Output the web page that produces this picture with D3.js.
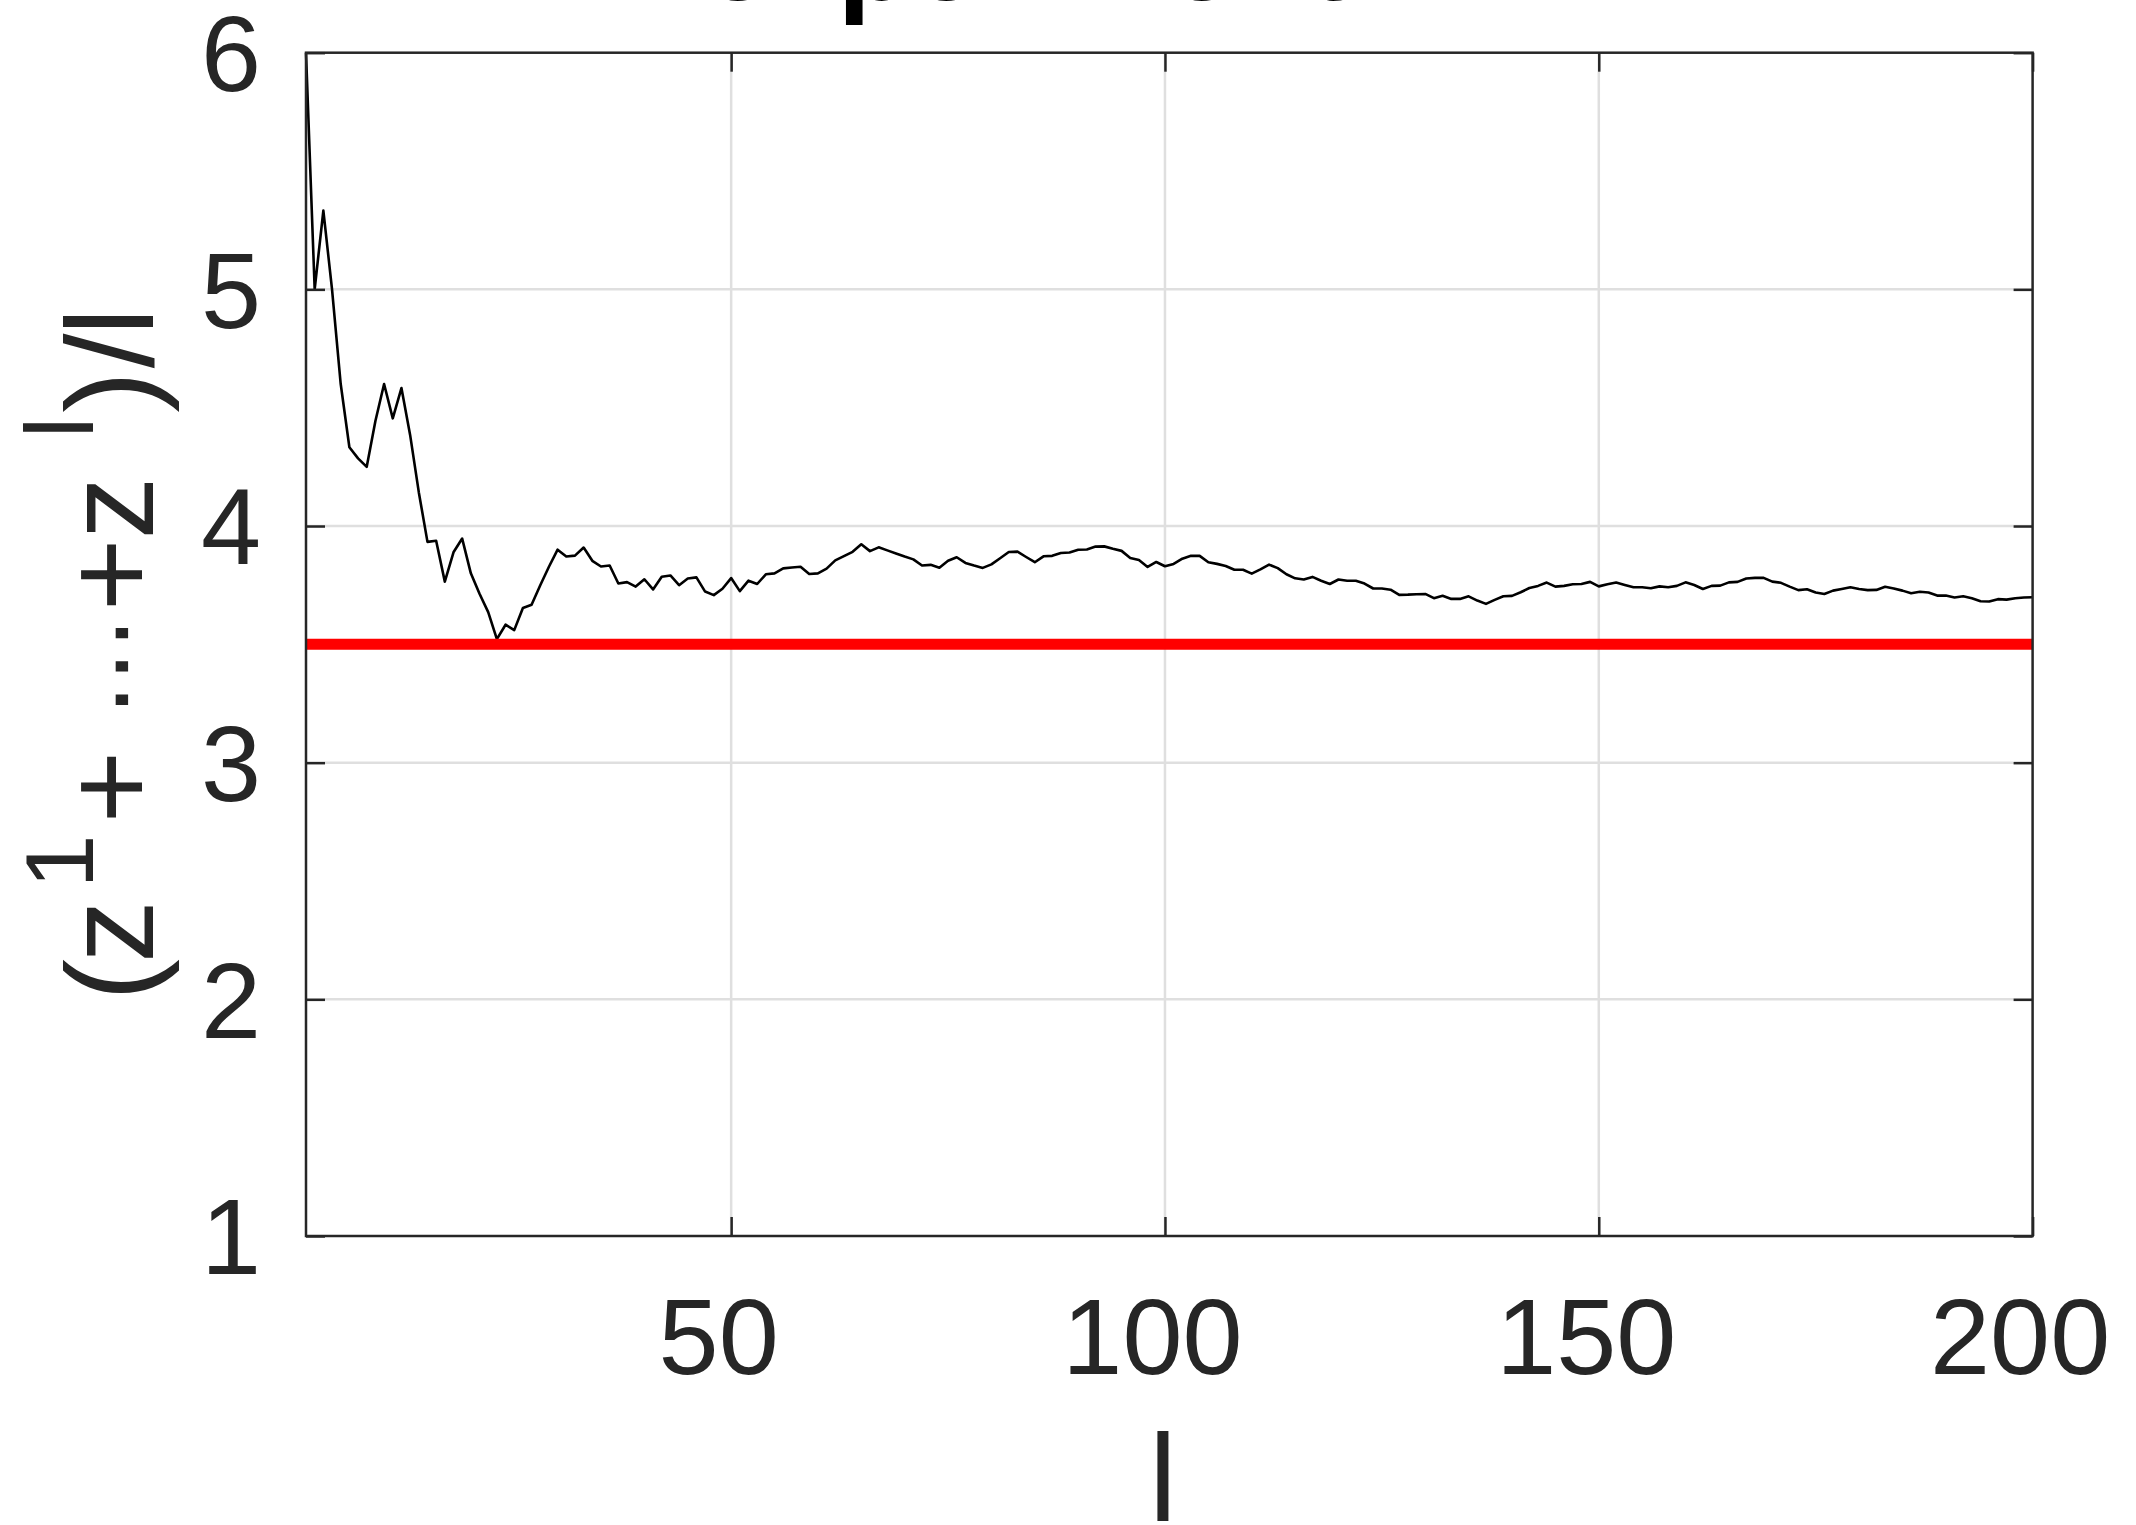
<!DOCTYPE html>
<html>
<head>
<meta charset="utf-8">
<script src="https://cdn.jsdelivr.net/npm/d3@7"></script>
<style>
  html, body { margin: 0; padding: 0; background: #ffffff; }
  svg { display: block; }
</style>
</head>
<body>
<div id="chart"></div>
<script>
// ---------------- data ----------------
const runningMean = [
  6.000, 5.000, 5.333, 5.000, 4.600, 4.333, 4.286, 4.250, 4.444, 4.600,
  4.455, 4.583, 4.385, 4.143, 3.933, 3.938, 3.765, 3.889, 3.947, 3.800,
  3.714, 3.636, 3.522, 3.583, 3.560, 3.654, 3.667, 3.750, 3.828, 3.900,
  3.871, 3.875, 3.909, 3.853, 3.829, 3.833, 3.757, 3.763, 3.744, 3.775,
  3.732, 3.786, 3.791, 3.750, 3.778, 3.783, 3.723, 3.708, 3.735, 3.780,
  3.725, 3.769, 3.755, 3.796, 3.800, 3.821, 3.825, 3.828, 3.797, 3.800,
  3.820, 3.855, 3.873, 3.891, 3.923, 3.894, 3.910, 3.897, 3.884, 3.871,
  3.859, 3.833, 3.836, 3.824, 3.853, 3.868, 3.844, 3.833, 3.823, 3.838,
  3.864, 3.890, 3.892, 3.869, 3.847, 3.872, 3.874, 3.886, 3.888, 3.900,
  3.901, 3.913, 3.914, 3.904, 3.895, 3.865, 3.856, 3.827, 3.848, 3.830,
  3.840, 3.862, 3.874, 3.874, 3.847, 3.840, 3.831, 3.815, 3.815, 3.799,
  3.817, 3.837, 3.822, 3.796, 3.779, 3.774, 3.785, 3.769, 3.755, 3.774,
  3.769, 3.769, 3.757, 3.736, 3.736, 3.731, 3.709, 3.710, 3.712, 3.713,
  3.695, 3.705, 3.692, 3.692, 3.703, 3.685, 3.671, 3.688, 3.703, 3.705,
  3.720, 3.738, 3.747, 3.761, 3.744, 3.747, 3.754, 3.755, 3.764, 3.745,
  3.754, 3.761, 3.751, 3.741, 3.741, 3.737, 3.745, 3.741, 3.747, 3.762,
  3.751, 3.734, 3.747, 3.748, 3.762, 3.764, 3.778, 3.781, 3.781, 3.765,
  3.760, 3.744, 3.729, 3.733, 3.719, 3.713, 3.727, 3.734, 3.741, 3.734,
  3.729, 3.730, 3.743, 3.736, 3.727, 3.716, 3.722, 3.719, 3.706, 3.706,
  3.698, 3.703, 3.695, 3.682, 3.681, 3.691, 3.689, 3.695, 3.698, 3.699
];
const expectedValue = 3.5;
const xDomain = [1, 200];
const yDomain = [1, 6];
const xTicks = [50, 100, 150, 200];
const yTicks = [1, 2, 3, 4, 5, 6];
const xLabelText = "l";
const titleText = "experiment";
// y-label pieces: text, whether raised (superscript)
const yLabelPieces = [
  {t: "(", sup: false}, {t: "z", sup: false}, {t: "1", sup: true},
  {t: "+", sup: false}, {t: "\u22EF", sup: false, dots: true}, {t: "+", sup: false},
  {t: "z", sup: false}, {t: "l", sup: true}, {t: ")", sup: false},
  {t: "/", sup: false}, {t: "l", sup: false}
];
// centres of the pieces along the label (page y, layout only)
const yLabelCentres = [980, 931.6, 861.4, 786.9, 666.5, 574.7, 508, 427.5, 392, 351, 321.6];

// ---------------- layout ----------------
const W = 2136, H = 1525;
const plot = {left: 306, right: 2032.6, top: 52.7, bottom: 1236};
const ink = "#262626";
const font = "'Liberation Sans', Arial, Helvetica, sans-serif";

const svg = d3.select("#chart").append("svg")
  .attr("width", W).attr("height", H)
  .attr("viewBox", `0 0 ${W} ${H}`);
svg.append("rect").attr("width", W).attr("height", H).attr("fill", "#fff");

const x = d3.scaleLinear().domain(xDomain).range([plot.left, plot.right]);
const y = d3.scaleLinear().domain(yDomain).range([plot.bottom, plot.top]);

// title (mostly above the page edge, as in the source figure)
svg.append("text")
  .attr("x", 703).attr("y", 0)
  .attr("font-family", font).attr("font-weight", "bold")
  .attr("font-size", 121).attr("fill", "#000")
  .text(titleText);

// grid
const grid = svg.append("g").attr("stroke", "#dfdfdf").attr("stroke-width", 2.5);
grid.selectAll("line.gx").data(xTicks.filter(d => d > xDomain[0] && d < xDomain[1]))
  .join("line").attr("class", "gx")
  .attr("x1", d => x(d)).attr("x2", d => x(d))
  .attr("y1", plot.top).attr("y2", plot.bottom);
grid.selectAll("line.gy").data(yTicks.filter(d => d > yDomain[0] && d < yDomain[1]))
  .join("line").attr("class", "gy")
  .attr("y1", d => y(d)).attr("y2", d => y(d))
  .attr("x1", plot.left).attr("x2", plot.right);

// data line
const line = d3.line().x((d, i) => x(i + 1)).y(d => y(d));
svg.append("path").datum(runningMean)
  .attr("d", line)
  .attr("fill", "none").attr("stroke", "#000")
  .attr("stroke-width", 2.6).attr("stroke-linejoin", "round");

// expected value line
svg.append("line")
  .attr("x1", x(xDomain[0])).attr("x2", x(xDomain[1]))
  .attr("y1", y(expectedValue)).attr("y2", y(expectedValue))
  .attr("stroke", "#ff0000").attr("stroke-width", 11);

// axes
function styleAxis(g) {
  g.select(".domain").remove();
  g.selectAll(".tick line").attr("stroke", ink).attr("stroke-width", 2.5);
  g.selectAll(".tick text").attr("fill", ink).attr("font-family", font).attr("font-size", 108);
}
const tickLen = 19;
const fmt = d3.format("d");
svg.append("g").attr("transform", `translate(0,${plot.bottom})`)
  .call(d3.axisBottom(x).tickValues(xTicks).tickFormat(fmt).tickSizeInner(-tickLen).tickSizeOuter(0).tickPadding(61))
  .call(styleAxis)
  .call(g => g.selectAll(".tick text").attr("dx", -13));
svg.append("g").attr("transform", `translate(0,${plot.top})`)
  .call(d3.axisTop(x).tickValues(xTicks).tickSizeInner(-tickLen).tickSizeOuter(0).tickFormat(""))
  .call(styleAxis);
svg.append("g").attr("transform", `translate(${plot.left},0)`)
  .call(d3.axisLeft(y).tickValues(yTicks).tickFormat(fmt).tickSizeInner(-tickLen).tickSizeOuter(0).tickPadding(45))
  .call(styleAxis)
  .call(g => g.selectAll(".tick text").attr("dy", "0.35em"));
svg.append("g").attr("transform", `translate(${plot.right},0)`)
  .call(d3.axisRight(y).tickValues(yTicks).tickSizeInner(-tickLen).tickSizeOuter(0).tickFormat(""))
  .call(styleAxis);

// box
svg.append("rect")
  .attr("x", plot.left).attr("y", plot.top)
  .attr("width", plot.right - plot.left).attr("height", plot.bottom - plot.top)
  .attr("fill", "none").attr("stroke", ink).attr("stroke-width", 2.5);

// x label
svg.append("text")
  .attr("x", 1163).attr("y", 1521)
  .attr("text-anchor", "middle")
  .attr("font-family", font).attr("font-size", 125).attr("fill", ink)
  .text(xLabelText);

// y label (rotated)
const yl = svg.append("g").attr("transform", "translate(153,0) rotate(-90)")
  .append("text")
  .attr("text-anchor", "middle")
  .attr("font-family", font).attr("font-size", 125).attr("fill", ink);
yl.selectAll("tspan").data(yLabelPieces).join("tspan")
  .attr("x", (d, i) => -yLabelCentres[i])
  .attr("y", d => d.sup ? -60.5 : 0)
  .attr("font-size", d => d.sup ? 97 : (d.dots ? 100 : 125))
  .attr("font-family", d => d.dots ? "'DejaVu Sans', sans-serif" : font)
  .text(d => d.t);
</script>
</body>
</html>
